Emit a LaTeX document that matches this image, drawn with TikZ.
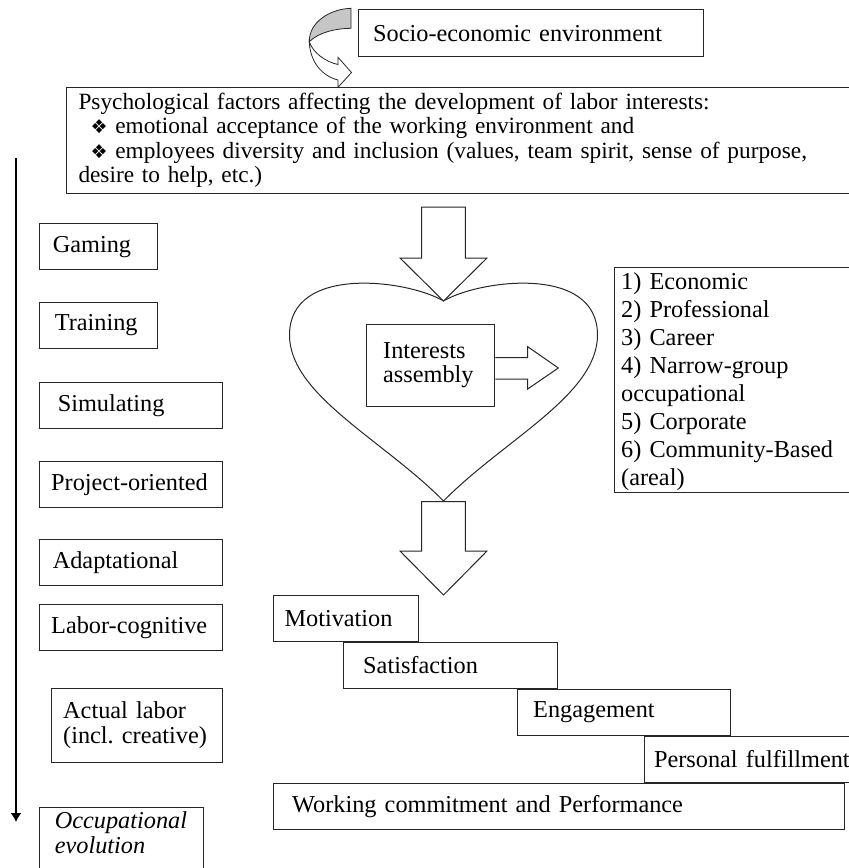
\documentclass[tikz,border=0pt]{standalone}
\usepackage{fontspec}
\setmainfont{Liberation Serif}
\newfontfamily\dingfont{DejaVu Sans}
\usepackage{tikz}
\usetikzlibrary{arrows.meta,positioning}

\newcommand{\dingbullet}{{\dingfont\fontsize{19}{19}\selectfont ❖}}

\begin{document}
\begin{tikzpicture}[
    x=1pt, y=-1pt,
    every node/.style={font=\fontsize{24.3}{27}\selectfont},
    box/.style={rectangle, draw=black!85, line width=1pt, anchor=north west, align=left, inner ysep=0pt},
    form/.style={box, minimum height=46pt, inner xsep=13pt},
    stair/.style={box, minimum height=46pt},
    blockarrow/.style={draw=black!85, line width=1pt, fill=white, line join=miter},
    timeline/.style={line width=1.5pt, -{Latex[length=9pt,width=11pt]}}
]
    \useasboundingbox (0,0) rectangle (849,868);
    \clip (0,0) rectangle (849,868);

    % Environment and factors
    \node[box, inner xsep=14.4pt, text width=315.6pt, minimum height=46.7pt] (socio) at (358.3,9.3) {Socio-economic environment};
    \node[box, inner xsep=12pt, text width=780pt, minimum height=105.4pt, font=\fontsize{23.3}{24.5}\selectfont] (factors) at (66,87.3)
        {Psychological factors affecting the development of labor interests:\\
         \hspace*{12pt}\dingbullet\ emotional acceptance of the working environment and\\
         \hspace*{12pt}\dingbullet\ employees diversity and inclusion (values, team spirit, sense of purpose,\\
         desire to help, etc.)};

    % Curved arrow
    \fill[gray!45, draw=black!85, line width=0.8pt] (351,8.3) .. controls (330,9) and (309,22) .. (309.3,41.7)
        .. controls (318,33) and (334,28.5) .. (351,28.3) -- cycle;
    \draw[blockarrow, line width=0.8pt] (309.3,41.7) .. controls (310,62) and (322,76) .. (338,80) -- (338,87.3)
        -- (351.5,72.5) -- (338,57.3) -- (338,64.5) .. controls (326,62) and (313,53) .. (309.3,41.7) -- cycle;

    % Heart
    \draw[line width=1pt, draw=black!85] (443.5,301) .. controls (478.5,280) and (597.5,264) .. (597.5,335)
        .. controls (597.5,395) and (503.5,440) .. (443.5,501)
        .. controls (383.5,440) and (289.5,395) .. (289.5,335)
        .. controls (289.5,264) and (408.5,280) .. (443.5,301) -- cycle;
    \draw[blockarrow] (421.7,207) -- (465.3,207) -- (465.3,258) -- (487,258) -- (443.5,301)
        -- (400,258) -- (421.7,258) -- cycle;
    \draw[blockarrow] (421.7,501.7) -- (465.3,501.7) -- (465.3,551) -- (487,551) -- (443.5,595)
        -- (400,551) -- (421.7,551) -- cycle;

    \node[box, inner xsep=17pt, text width=94.6pt, minimum height=81.7pt, font=\fontsize{24.3}{24}\selectfont] (assembly) at (365.7,324) {Interests\\assembly};
    \draw[blockarrow, fill=none] (assembly.east |- 0,357.7) -- (527.7,357.7) -- (527.7,346.7) -- (558.3,368)
        -- (527.7,389) -- (527.7,379) -- (assembly.east |- 0,379);

    \node[box, inner xsep=6.7pt, inner ysep=2pt, text width=230pt, minimum height=220pt, font=\fontsize{24.3}{28}\selectfont] (kinds) at (614,266.7)
        {\rule{0pt}{20pt}1) Economic\\2) Professional\\3) Career\\4) Narrow-group\\occupational\\5) Corporate\\6) Community-Based\\(areal)};

    % Forms of activity
    \node[form, text width=92pt] (gaming) at (39.3,223.3) {Gaming};
    \node[form, text width=88pt, inner xsep=15pt, below=31.7pt of gaming.south west, anchor=north west] (training) {Training};
    \node[form, text width=146.4pt, inner xsep=18pt, below=33pt of training.south west, anchor=north west] (simul) {Simulating};
    \node[form, text width=159.6pt, inner xsep=11.4pt, below=31.7pt of simul.south west, anchor=north west] (project) {Project-oriented};
    \node[form, text width=156.4pt, below=31.3pt of project.south west, anchor=north west] (adapt) {Adaptational};
    \node[form, text width=159.6pt, inner xsep=11.4pt, below=18pt of adapt.south west, anchor=north west] (labcog) {Labor-cognitive};
    \node[form, text width=147.3pt, inner xsep=11.7pt, minimum height=74.4pt, font=\fontsize{24.3}{25}\selectfont,
        below=36.6pt of labcog.south west, anchor=north west, xshift=11.7pt] (actual) {Actual labor\\\mbox{(incl.\ creative)}};
    \node[form, text width=133.3pt, inner xsep=15pt, inner ysep=4pt, text depth=40pt, font=\itshape\fontsize{24.3}{25}\selectfont,
        below=44pt of actual.south west, anchor=north west, xshift=-11.7pt] (occup) {Occupational\\evolution};

    \coordinate (tltop) at (16,158.3);
    \coordinate (tlend) at (16,822);
    \draw[timeline] (tltop) -- (tlend);

    % Staircase
    \node[stair, inner xsep=11.3pt, text width=123pt] (motiv) at (272.7,594.7) {Motivation};
    \node[stair, inner xsep=19.4pt, text width=174.6pt] (satis) at ([xshift=70.6pt]motiv.south west) {Satisfaction};
    \node[stair, inner xsep=16pt, text width=181.3pt] (engage) at ([xshift=173.4pt]satis.south west) {Engagement};
    \node[stair, inner xsep=10pt, text width=210pt] (pers) at ([xshift=126.8pt]engage.south west) {Personal fulfillment};
    \node[stair, inner xsep=19pt, text width=532.8pt, minimum height=46.7pt] (work) at (motiv.south west |- pers.south) {Working commitment and Performance};
\end{tikzpicture}
\end{document}
